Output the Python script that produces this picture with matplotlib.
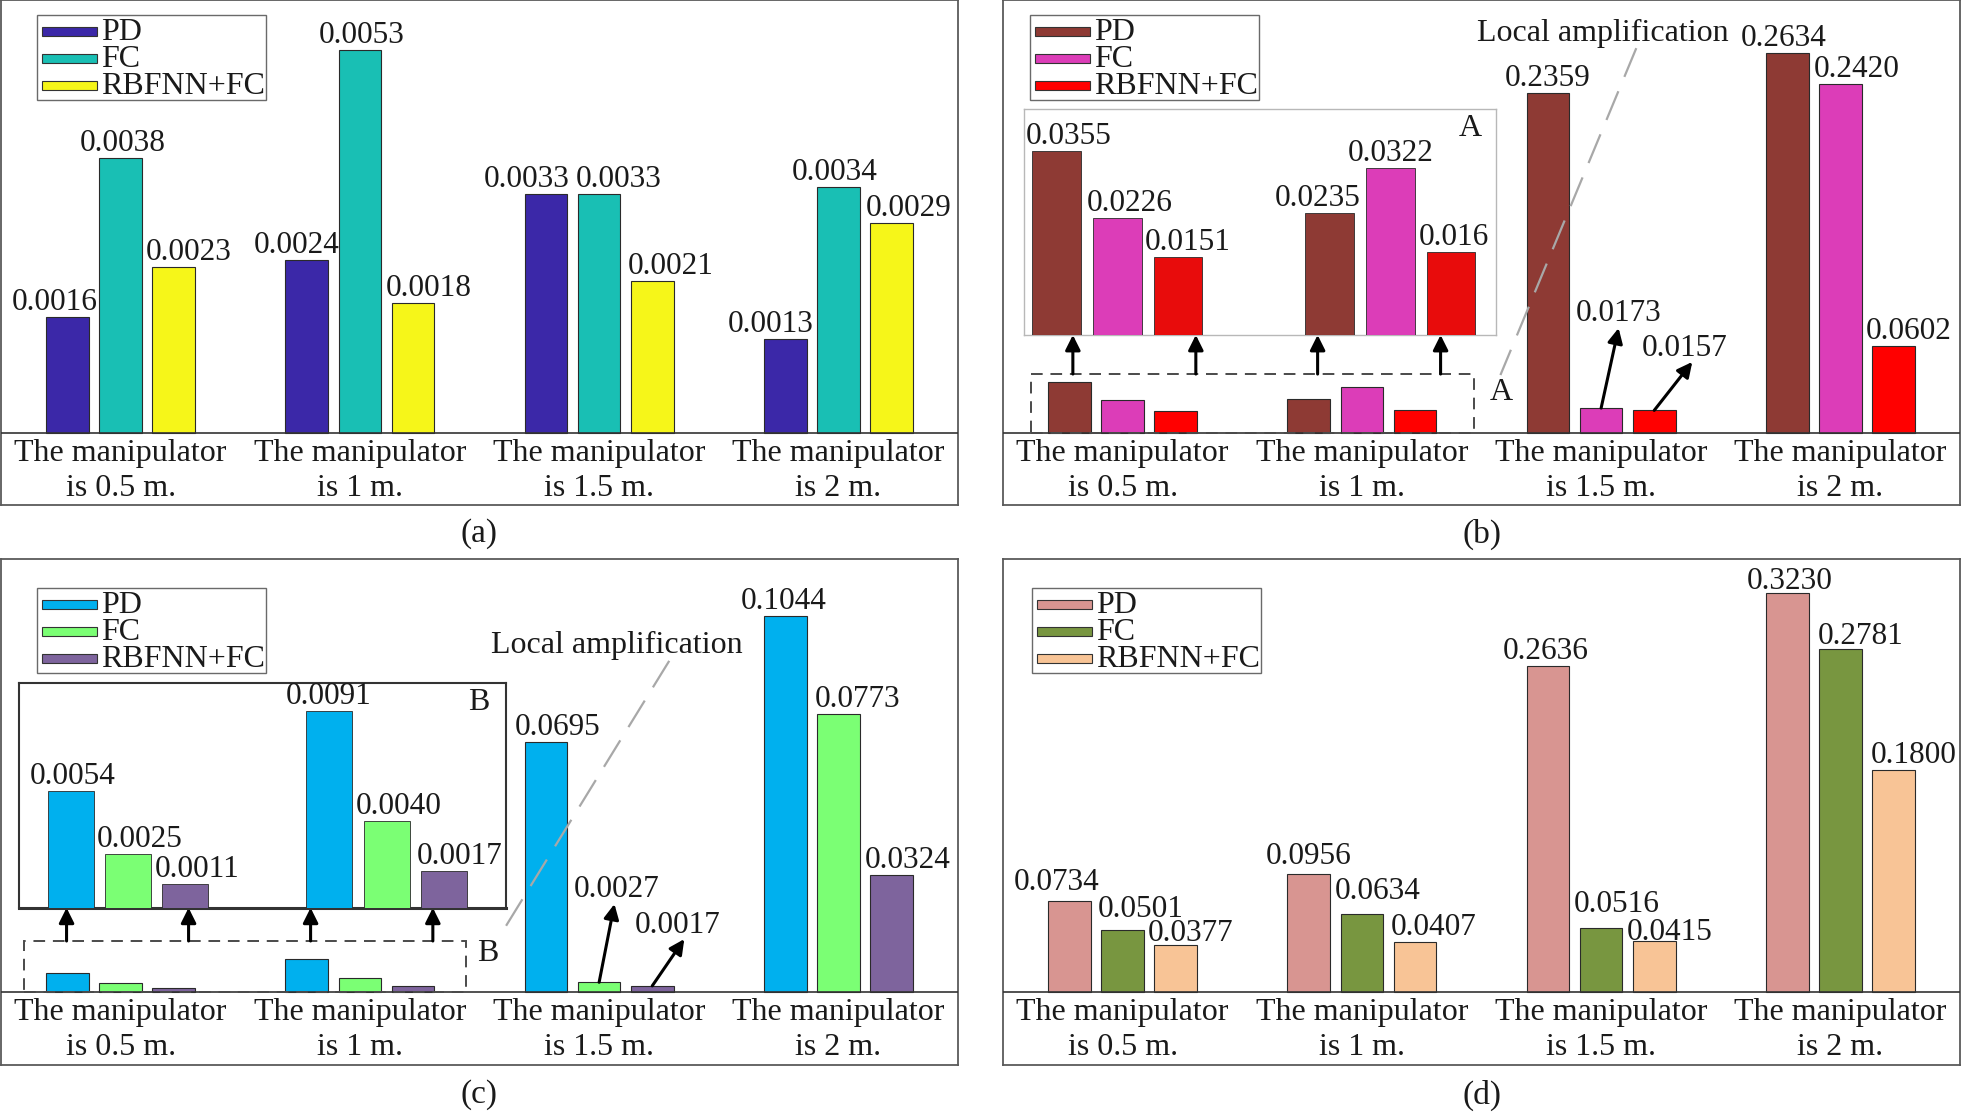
import numpy as np
import matplotlib
matplotlib.use("Agg")
import matplotlib.pyplot as plt
from matplotlib.patches import Rectangle

plt.rcParams["font.family"] = ["Liberation Serif", "DejaVu Serif"]
plt.rcParams["text.color"] = "#1a1a1a"

categories = ["The manipulator\nis 0.5 m.", "The manipulator\nis 1 m.",
              "The manipulator\nis 1.5 m.", "The manipulator\nis 2 m."]
methods = ["PD", "FC", "RBFNN+FC"]

# (a)
a_pd = [0.0016, 0.0024, 0.0033, 0.0013]
a_fc = [0.0038, 0.0053, 0.0033, 0.0034]
a_rbf = [0.0023, 0.0018, 0.0021, 0.0029]
# (b)
b_pd = [0.0355, 0.0235, 0.2359, 0.2634]
b_fc = [0.0226, 0.0322, 0.0173, 0.2420]
b_rbf = [0.0151, 0.0160, 0.0157, 0.0602]
# (c)
c_pd = [0.0054, 0.0091, 0.0695, 0.1044]
c_fc = [0.0025, 0.0040, 0.0027, 0.0773]
c_rbf = [0.0011, 0.0017, 0.0017, 0.0324]
# (d)
d_pd = [0.0734, 0.0956, 0.2636, 0.3230]
d_fc = [0.0501, 0.0634, 0.0516, 0.2781]
d_rbf = [0.0377, 0.0407, 0.0415, 0.1800]

a_colors = ["#3b28a8", "#19bfb4", "#f6f619"]
b_colors = ["#8e3a34", "#dc3db8", "#ff0000"]
c_colors = ["#00b0ee", "#7bff74", "#7e649d"]
d_colors = ["#d89591", "#789640", "#f8c496"]

# --- layout (figure pixels, origin top-left) ---
W, H = 1961, 1112
BASE = 433            # panel top -> bar baseline
WIDTH = 0.178
OFFS = [-0.222, 0.0, 0.222]
EDGE = "#2a2a2a"
FRAME = "#5a5a5a"
FS_VAL = 22.5
FS_TXT = 23
FS_LEG = 23

# nudges of the value labels, in pixels (x right, y up)
a_dx = [[-13, -10, -19, -15], [2, 2, 20, -4], [15, 16, 18, 17]]
b_dx = [[0, 0, 0, -4], [0, 0, 0, 16], [0, 0, 0, 15]]
c_dx = [[0, 0, 12, -2], [0, 0, 0, 19], [0, 0, 0, 16]]
d_dx = [[-13, 0, -2, 2], [18, 16, 16, 20], [15, 19, 15, 20]]
d_dy = [[4, 3, 0, -3], [6, 8, 9, -2], [-3, 0, -6, 0]]
b_in_dx = [[12, -12], [12, 0], [10, 3]]
c_in_dx = [[2, -1], [12, 12], [12, 16]]

ARROW = dict(arrowstyle="-|>,head_length=0.6,head_width=0.3", color="black",
             lw=2.2, shrinkA=0, shrinkB=0, mutation_scale=15)


def fx(px):
    return px / W


def fy(py):
    return 1 - py / H


def add_px_axes(fig, x0, y0, x1, y1):
    return fig.add_axes([fx(x0), fy(y1), (x1 - x0) / W, (y1 - y0) / H])


def draw_legend(fig, left, top, colors):
    fig.add_artist(Rectangle((fx(left), fy(top + 85)), 229 / W, 85 / H,
                             transform=fig.transFigure, facecolor="white",
                             edgecolor="#6a6a6a", lw=1.0))
    for k, (name, col) in enumerate(zip(methods, colors)):
        cy = top + 16 + 27 * k
        fig.add_artist(Rectangle((fx(left + 5), fy(cy + 4.5)), 55 / W, 9 / H,
                                 transform=fig.transFigure, facecolor=col,
                                 edgecolor="#333333", lw=0.8))
        fig.text(fx(left + 64), fy(top + 25 + 27 * k), name, ha="left",
                 va="baseline", fontsize=FS_LEG)


def draw_panel(fig, box, series, colors, ytop, dx, caption, cap_y, leg,
               skip=(), dy=None):
    x0, y0, x1, y1 = box
    ax = add_px_axes(fig, x0, y0, x1, y1)
    ax.set_xlim(-0.5, 3.5)
    ax.set_ylim(-ytop * (y1 - y0 - BASE) / BASE, ytop)
    ax.set_xticks([])
    ax.set_yticks([])
    for sp in ax.spines.values():
        sp.set_color(FRAME)
        sp.set_linewidth(1.3)
    x = np.arange(len(categories))
    for i, (vals, col) in enumerate(zip(series, colors)):
        xs = x + OFFS[i]
        ax.bar(xs, vals, WIDTH, color=col, edgecolor=EDGE, linewidth=0.8, zorder=3)
        for j, v in enumerate(vals):
            if (i, j) in skip:
                continue
            oy = dy[i][j] if dy else 0
            ax.annotate(f"{v:.4f}", (xs[j], v), xytext=(dx[i][j] * 0.72, oy * 0.72),
                        textcoords="offset points", ha="center", va="bottom",
                        fontsize=FS_VAL, zorder=7)
    ax.axhline(0, color="#333333", lw=1.2, zorder=4)
    for j, cat in enumerate(categories):
        ax.annotate(cat, (j, 0), xytext=(0, -4), textcoords="offset points",
                    ha="center", va="top", fontsize=FS_TXT, linespacing=1.28)
    fig.text(fx((x0 + x1) / 2), fy(cap_y), caption, ha="center", va="center",
             fontsize=24)
    draw_legend(fig, leg[0], leg[1], colors)
    return ax


def draw_inset(fig, box, series, colors, xlim, ytop, dx, frame, lw, tag, texts=None):
    ax = add_px_axes(fig, *box)
    ax.set_xlim(*xlim)
    ax.set_ylim(0, ytop)
    ax.set_xticks([])
    ax.set_yticks([])
    for sp in ax.spines.values():
        sp.set_color(frame)
        sp.set_linewidth(lw)
    x = np.arange(2)
    for i, (vals, col) in enumerate(zip(series, colors)):
        xs = x + OFFS[i]
        ax.bar(xs, vals[:2], WIDTH, color=col, edgecolor=EDGE, linewidth=0.6, zorder=3)
        for j, v in enumerate(vals[:2]):
            s = texts.get((i, j), f"{v:.4f}") if texts else f"{v:.4f}"
            ax.annotate(s, (xs[j], v), xytext=(dx[i][j] * 0.72, 0),
                        textcoords="offset points", ha="center", va="bottom",
                        fontsize=FS_VAL, zorder=7)
    ax.text(0.945, 0.915, tag, transform=ax.transAxes, ha="center", va="center",
            fontsize=FS_TXT)
    return ax


def zoom_marks(ax, rect, arrow_x, arrow_top, tag_xy, tag, line, text_xy):
    rx0, rx1, rtop = rect
    ax.add_patch(Rectangle((rx0, 0), rx1 - rx0, rtop, fill=False, edgecolor="#4a4a4a",
                           lw=1.4, linestyle=(0, (6, 4)), zorder=5))
    for xa in arrow_x:
        ax.annotate("", xy=(xa, arrow_top), xytext=(xa, rtop), arrowprops=ARROW,
                    zorder=6)
    ax.text(tag_xy[0], tag_xy[1], tag, ha="center", va="center", fontsize=FS_TXT)
    ax.plot(line[0], line[1], color="#a8a8a8", lw=1.6, linestyle=(0, (14, 7)), zorder=6)
    ax.text(text_xy[0], text_xy[1], "Local amplification", ha="center",
            va="center", fontsize=FS_TXT)


def small_label(ax, x, v, text_xy, tip):
    ax.annotate("", xy=tip, xytext=(x, v), arrowprops=ARROW, zorder=6)
    ax.text(text_xy[0], text_xy[1], f"{v:.4f}", ha="center", va="center",
            fontsize=FS_VAL)


fig = plt.figure(figsize=(W / 100, H / 100), dpi=100)

# (a)
draw_panel(fig, (1, 0, 958, 505), [a_pd, a_fc, a_rbf], a_colors, 0.00599, a_dx,
           "(a)", 534, (37, 15))

# (b)
hide = {(0, 0), (1, 0), (2, 0), (0, 1), (1, 1), (2, 1), (1, 2), (2, 2)}
axb = draw_panel(fig, (1003, 0, 1960, 505), [b_pd, b_fc, b_rbf], b_colors, 0.3004,
                 b_dx, "(b)", 534, (1030, 15), skip=hide)
zoom_marks(axb, (-0.383, 1.467, 0.0409), [-0.208, 0.306, 0.815, 1.329], 0.068,
           (1.581, 0.0281), "A", ([2.147, 1.579], [0.267, 0.0402]), (2.005, 0.277))
small_label(axb, 2 + OFFS[1], b_fc[2], (2.074, 0.0826), (2.073, 0.0728))
small_label(axb, 2 + OFFS[2], b_rbf[2], (2.35, 0.0583), (2.381, 0.0493))
draw_inset(fig, (1024, 109, 1496, 335), [b_pd, b_fc, b_rbf],
           ["#8e3a34", "#dc3db8", "#e80c0c"], (-0.342, 1.387), 0.0435, b_in_dx,
           "#b8b8b8", 1.0, "A", texts={(2, 1): "0.016"})

# (c)
axc = draw_panel(fig, (1, 559, 958, 1065), [c_pd, c_fc, c_rbf], c_colors, 0.1203,
                 c_dx, "(c)", 1095, (37, 588), skip=hide)
zoom_marks(axc, (-0.405, 1.444, 0.01417), [-0.226, 0.284, 0.794, 1.305], 0.0234,
           (1.533, 0.0107), "B", ([2.293, 1.600], [0.0920, 0.0172]), (2.076, 0.0964))
small_label(axc, 2 + OFFS[1], c_fc[2], (2.072, 0.0286), (2.064, 0.02445))
small_label(axc, 2 + OFFS[2], c_rbf[2], (2.329, 0.0186), (2.356, 0.0147))
ax_in = draw_inset(fig, (19, 683, 506, 908), [c_pd, c_fc, c_rbf], c_colors,
                   (-0.422, 1.462), 0.01038, c_in_dx, "#333333", 1.5, "B")
ax_in.spines["bottom"].set_linewidth(2.2)

# (d)
draw_panel(fig, (1003, 559, 1960, 1065), [d_pd, d_fc, d_rbf], d_colors, 0.3506,
           d_dx, "(d)", 1095, (1032, 588), dy=d_dy)

fig.savefig("out.png", dpi=100, facecolor="white")
